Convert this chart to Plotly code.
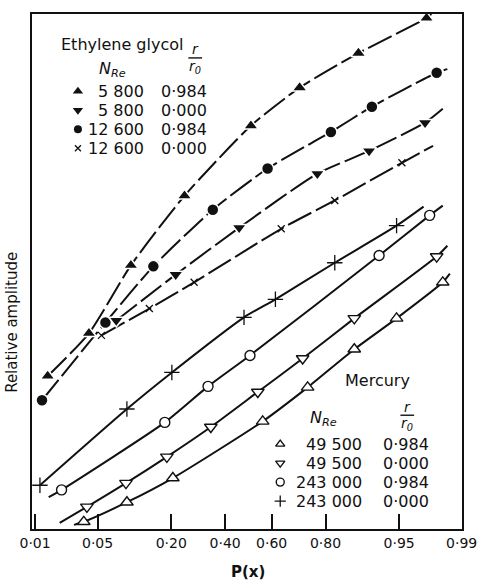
import plotly.graph_objects as go
from statistics import NormalDist

_nd = NormalDist()


def probit(ps):
    return [_nd.inv_cdf(p) for p in ps]


# ---- Ethylene glycol (measured points) ----
eg_5800_984_p = [0.0143, 0.041, 0.100, 0.243, 0.511, 0.712, 0.885, 0.974]
eg_5800_984_a = [2.97, 3.80, 5.12, 6.47, 7.83, 8.57, 9.24, 9.92]

eg_12600_984_p = [0.0122, 0.0595, 0.150, 0.349, 0.583, 0.816, 0.911, 0.980]
eg_12600_984_a = [2.50, 4.01, 5.10, 6.20, 7.00, 7.71, 8.20, 8.86]

eg_5800_000_p = [0.0748, 0.214, 0.460, 0.774, 0.906, 0.973]
eg_5800_000_a = [4.05, 4.94, 5.85, 6.90, 7.34, 7.89]

eg_12600_000_p = [0.0545, 0.140, 0.277, 0.640, 0.827, 0.953]
eg_12600_000_a = [3.76, 4.28, 4.79, 5.83, 6.38, 7.11]

# ---- Mercury (measured points) ----
hg_243000_000_p = [0.0115, 0.0926, 0.202, 0.481, 0.616, 0.827, 0.947]
hg_243000_000_a = [0.85, 2.33, 3.04, 4.11, 4.46, 5.17, 5.89]

hg_243000_984_p = [0.0208, 0.181, 0.330, 0.507, 0.923, 0.976]
hg_243000_984_a = [0.76, 2.07, 2.77, 3.37, 5.31, 6.09]

hg_49500_000_p = [0.0391, 0.0909, 0.187, 0.341, 0.541, 0.723, 0.876, 0.980]
hg_49500_000_a = [0.43, 0.89, 1.40, 1.98, 2.66, 3.31, 4.09, 5.29]

hg_49500_984_p = [0.0363, 0.0926, 0.205, 0.562, 0.741, 0.876, 0.947, 0.983]
hg_49500_984_a = [0.14, 0.52, 0.99, 2.09, 2.75, 3.49, 4.09, 4.79]

# Where the faired curves run beyond the first / last point: (P, amplitude)
curve_start = {
    "hg_243000_984": (0.0147, 0.62),
    "hg_49500_000": (0.0198, 0.12),
    "hg_49500_984": (0.0286, 0.08),
}
curve_end = {
    "eg_5800_984": (0.977, 10.0),
    "eg_12600_984": (0.985, 8.93),
    "eg_5800_000": (0.983, 8.16),
    "eg_12600_000": (0.978, 7.44),
    "hg_243000_000": (0.972, 6.26),
    "hg_243000_984": (0.983, 6.28),
    "hg_49500_000": (0.985, 5.50),
    "hg_49500_984": (0.986, 4.96),
}

tick_p = [0.01, 0.05, 0.20, 0.40, 0.60, 0.80, 0.95, 0.99]
tick_text = ["0·01", "0·05", "0·20", "0·40", "0·60", "0·80", "0·95", "0·99"]

# Key rows: (series, Reynolds number, r/r0)
eg_key = [("eg_5800_984", "5 800", "0·984"), ("eg_5800_000", "5 800", "0·000"),
          ("eg_12600_984", "12 600", "0·984"), ("eg_12600_000", "12 600", "0·000")]
hg_key = [("hg_49500_984", "49 500", "0·984"), ("hg_49500_000", "49 500", "0·000"),
          ("hg_243000_984", "243 000", "0·984"), ("hg_243000_000", "243 000", "0·000")]

INK = "#111111"
FONT = "DejaVu Sans, Verdana, sans-serif"

series = [
    # key, p, a, symbol, fill, size, dashed
    ("eg_5800_984", eg_5800_984_p, eg_5800_984_a, "triangle-up", INK, 11, True),
    ("eg_12600_984", eg_12600_984_p, eg_12600_984_a, "circle", INK, 10, True),
    ("eg_5800_000", eg_5800_000_p, eg_5800_000_a, "triangle-down", INK, 11, True),
    ("eg_12600_000", eg_12600_000_p, eg_12600_000_a, "x-thin-open", INK, 7, True),
    ("hg_243000_000", hg_243000_000_p, hg_243000_000_a, "cross-thin-open", INK, 11, False),
    ("hg_243000_984", hg_243000_984_p, hg_243000_984_a, "circle", "white", 10, False),
    ("hg_49500_000", hg_49500_000_p, hg_49500_000_a, "triangle-down", "white", 11, False),
    ("hg_49500_984", hg_49500_984_p, hg_49500_984_a, "triangle-up", "white", 11, False),
]
style = {s[0]: s for s in series}


def marker_style(sym, fill, size, gap=True):
    if sym.endswith("thin-open"):
        return dict(symbol=sym, size=size, color=INK, line=dict(color=INK, width=1.3))
    if fill == "white":
        return dict(symbol=sym, size=size, color="white", line=dict(color=INK, width=1.4))
    if gap:
        return dict(symbol=sym, size=size + 2, color=INK, line=dict(color="white", width=1.5))
    return dict(symbol=sym, size=size, color=INK, line=dict(width=0))


fig = go.Figure()

# faired curves (dashed for ethylene glycol, solid for mercury)
for key, p, a, sym, fill, size, dashed in series:
    cp, ca = list(p), list(a)
    if key in curve_start:
        cp.insert(0, curve_start[key][0])
        ca.insert(0, curve_start[key][1])
    if key in curve_end:
        cp.append(curve_end[key][0])
        ca.append(curve_end[key][1])
    fig.add_trace(go.Scatter(
        x=probit(cp), y=ca, mode="lines",
        line=dict(color=INK, width=2, shape="spline", smoothing=0.6,
                  dash="26px,5px" if dashed else "solid"),
        hoverinfo="skip", showlegend=False,
    ))

# measured points
for key, p, a, sym, fill, size, dashed in series:
    fig.add_trace(go.Scatter(
        x=probit(p), y=a, mode="markers", marker=marker_style(sym, fill, size),
        name=key, showlegend=False,
    ))

# paper-coordinate helpers from pixel positions
L, R, T, B = 32, 472, 13, 529


def px(x):
    return (x - L) / (R - L)


def py(y):
    return (B - y) / (B - T)


annotations = []
shapes = []


def txt(x, y, s, size=16, xanchor="center", yanchor="middle", **kw):
    annotations.append(dict(
        x=x, y=y, xref="paper", yref="paper", text=s, showarrow=False,
        xanchor=xanchor, yanchor=yanchor,
        font=dict(family=FONT, size=size, color=INK), **kw))


def frac(xc, y_num, y_bar, y_den, half=7):
    txt(px(xc), py(y_num), "<i>r</i>", size=14)
    txt(px(xc), py(y_den), "<i>r<sub>0</sub></i>", size=14)
    shapes.append(dict(type="line", xref="paper", yref="paper",
                       x0=px(xc - half), x1=px(xc + half), y0=py(y_bar), y1=py(y_bar),
                       line=dict(color=INK, width=1.4)))


def key_symbols(rows, x, y0, dy, scale):
    for i, (k, _, _) in enumerate(rows):
        _, _, _, sym, fill, size, _ = style[k]
        m = marker_style(sym, fill, round(size * scale), gap=False)
        fig.add_trace(go.Scatter(
            x=[px(x)], y=[py(y0 + i * dy)], xaxis="x2", yaxis="y2",
            mode="markers", marker=m, hoverinfo="skip", showlegend=False,
        ))


ROW = 19
KEY_FS = 16

# Ethylene glycol key
txt(px(60), py(44), "Ethylene glycol", size=16, xanchor="left")
txt(px(114), py(69), "<i>N<sub>Re</sub></i>", size=16)
frac(199, 48, 57, 66)
for i, (k, n, r) in enumerate(eg_key):
    y = 90.5 + i * ROW
    txt(px(149), py(y), n, size=KEY_FS, xanchor="right")
    txt(px(162), py(y), r, size=KEY_FS, xanchor="left")
key_symbols(eg_key, 79, 90.5, ROW, 0.8)

# Mercury key
txt(px(350), py(380), "Mercury", size=16, xanchor="left")
txt(px(330), py(418), "<i>N<sub>Re</sub></i>", size=16)
frac(416, 407, 415, 424)
for i, (k, n, r) in enumerate(hg_key):
    y = 444 + i * ROW
    txt(px(372), py(y), n, size=KEY_FS, xanchor="right")
    txt(px(389), py(y), r, size=KEY_FS, xanchor="left")
key_symbols(hg_key, 286, 444, ROW, 0.75)

# Axis titles
txt(px(253), py(572), "<b>P(x)</b>", size=15)
txt(px(12), py(322), "Relative amplitude", size=15, textangle=-90)

fig.update_layout(
    width=489, height=583,
    margin=dict(l=L, r=489 - R, t=T, b=583 - B),
    paper_bgcolor="white", plot_bgcolor="white",
    showlegend=False,
    annotations=annotations, shapes=shapes,
    font=dict(family=FONT, color=INK),
    xaxis=dict(
        range=[-2.36, 2.33], tickvals=probit(tick_p), ticktext=tick_text,
        ticks="inside", ticklen=15, tickwidth=1.5, tickcolor=INK,
        showline=True, linecolor=INK, linewidth=2, mirror=True,
        showgrid=False, zeroline=False,
        tickfont=dict(family=FONT, size=14, color=INK),
    ),
    yaxis=dict(
        range=[0, 10], showticklabels=False, ticks="",
        showline=True, linecolor=INK, linewidth=2, mirror=True,
        showgrid=False, zeroline=False,
    ),
    xaxis2=dict(overlaying="x", range=[0, 1], visible=False),
    yaxis2=dict(overlaying="y", range=[0, 1], visible=False),
)

fig.write_html("out.html")
